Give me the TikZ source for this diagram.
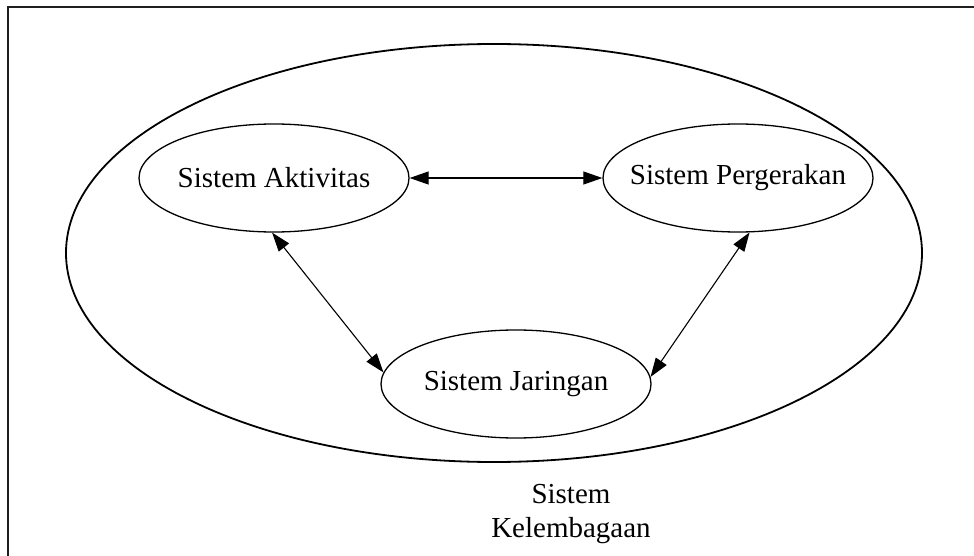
\documentclass[tikz,border=0pt]{standalone}
\usepackage{fontspec}
\setmainfont{Liberation Serif}
\usetikzlibrary{shapes.geometric,arrows.meta}
\begin{document}
\begin{tikzpicture}[x=1pt,y=-1pt,
  every node/.style={font=\fontsize{29}{34}\selectfont},
  subsys/.style={draw, ellipse, line width=1.3pt, minimum width=270pt, minimum height=108pt, inner sep=0pt},
  link/.style={line width=1.1pt, {Triangle[length=19pt,width=13pt]}-{Triangle[length=19pt,width=13pt]}},
  frameline/.style={line width=2.2pt, draw=black!88}]
  \useasboundingbox (0,0) rectangle (974,556);
  % page frame: top and left edges
  \coordinate (ftl) at (8,7);
  \coordinate (ftr) at (974,7);
  \coordinate (fbl) at (8,556);
  \draw[frameline] (ftr) -- (ftl) -- (fbl);
  % enclosing institutional system
  \node[draw, ellipse, line width=1.8pt, minimum width=856pt, minimum height=418pt, inner sep=0pt] (kel) at (494,253) {};
  \node[align=center] (kellabel) at (571,514) {Sistem\\Kelembagaan};
  % the three sub-systems (outline first, caption on top)
  \node[subsys] (akt) at (274,178) {};
  \node[subsys] (per) at (738,178) {};
  \node[subsys] (jar) at (516,384) {};
  \node (akttext) at (akt.center) {Sistem Aktivitas};
  \node (pertext) at (per.center) {Sistem Pergerakan};
  \node (jartext) at (jar.center) {Sistem Jaringan};
  % interactions
  \draw[link] (akt.east) -- (per.west);
  \draw[link] (akt.268) -- (jar.175);
  \draw[link] (per.282) -- (jar.3);
\end{tikzpicture}
\end{document}
